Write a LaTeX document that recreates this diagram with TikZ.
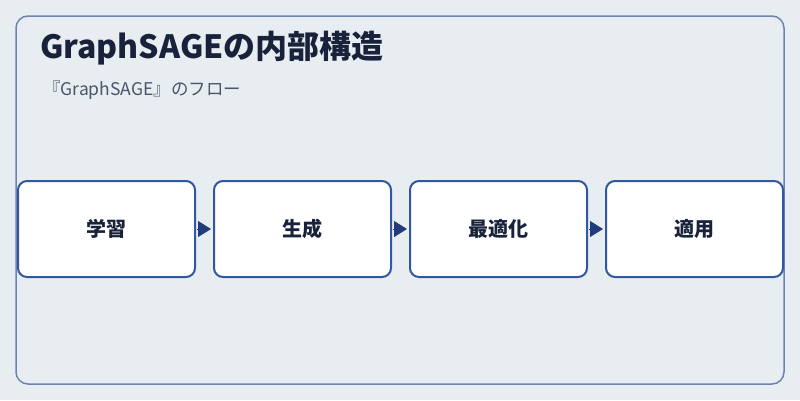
\documentclass[tikz,border=0pt]{standalone}
\usepackage{fontspec}
\setmainfont{Noto Sans CJK JP}
\usepackage{xcolor}
\usetikzlibrary{positioning, arrows.meta}

\definecolor{bgGray}{HTML}{E8EDF2}
\definecolor{frameBlue}{HTML}{6C83AD}
\definecolor{boxBlue}{HTML}{3157A0}
\definecolor{tipBlue}{HTML}{213C78}
\definecolor{inkNavy}{HTML}{18223A}
\definecolor{subGray}{HTML}{4A5568}

\tikzset{
  stagebox/.style={draw=boxBlue, fill=white, line width=2pt, rounded corners=9pt,
    minimum width=177pt, minimum height=96pt, outer sep=0pt,
    font=\bfseries\fontsize{20}{22}\selectfont, text=inkNavy},
  flowarrow/.style={draw=tipBlue, line width=1pt, shorten <=2pt, shorten >=3pt,
    -{Triangle[length=13pt, width=16pt]}, tipBlue}
}

\begin{document}
\begin{tikzpicture}[x=1pt, y=-1pt]
  % Fix the page size
  \useasboundingbox (0,0) rectangle (800,400);
  \fill[bgGray] (0,0) rectangle (800,400);

  % Draw the outer frame
  \draw[frameBlue, line width=1.5pt, rounded corners=12pt] (16,16) rectangle (784,384);

  % Title and subtitle
  \node[anchor=base west, inner sep=0pt, text=inkNavy, font=\bfseries\fontsize{32}{35}\selectfont] (title) at (40,58) {GraphSAGEの内部構造};
  \node[anchor=base west, inner sep=0pt, text=subGray, font=\fontsize{17.5}{19}\selectfont] (subtitle) at (43,95) {『GraphSAGE』のフロー};

  % Draw the four stages
  \node[stagebox] (learn) at (106.5,229) {学習};
  \node[stagebox, right=19pt of learn] (generate) {生成};
  \node[stagebox, right=19pt of generate] (optimize) {最適化};
  \node[stagebox, right=19pt of optimize] (apply) {適用};

  % Connect the stages
  \draw[flowarrow] (learn.east) -- (generate.west);
  \draw[flowarrow] (generate.east) -- (optimize.west);
  \draw[flowarrow] (optimize.east) -- (apply.west);

\end{tikzpicture}
\end{document}
